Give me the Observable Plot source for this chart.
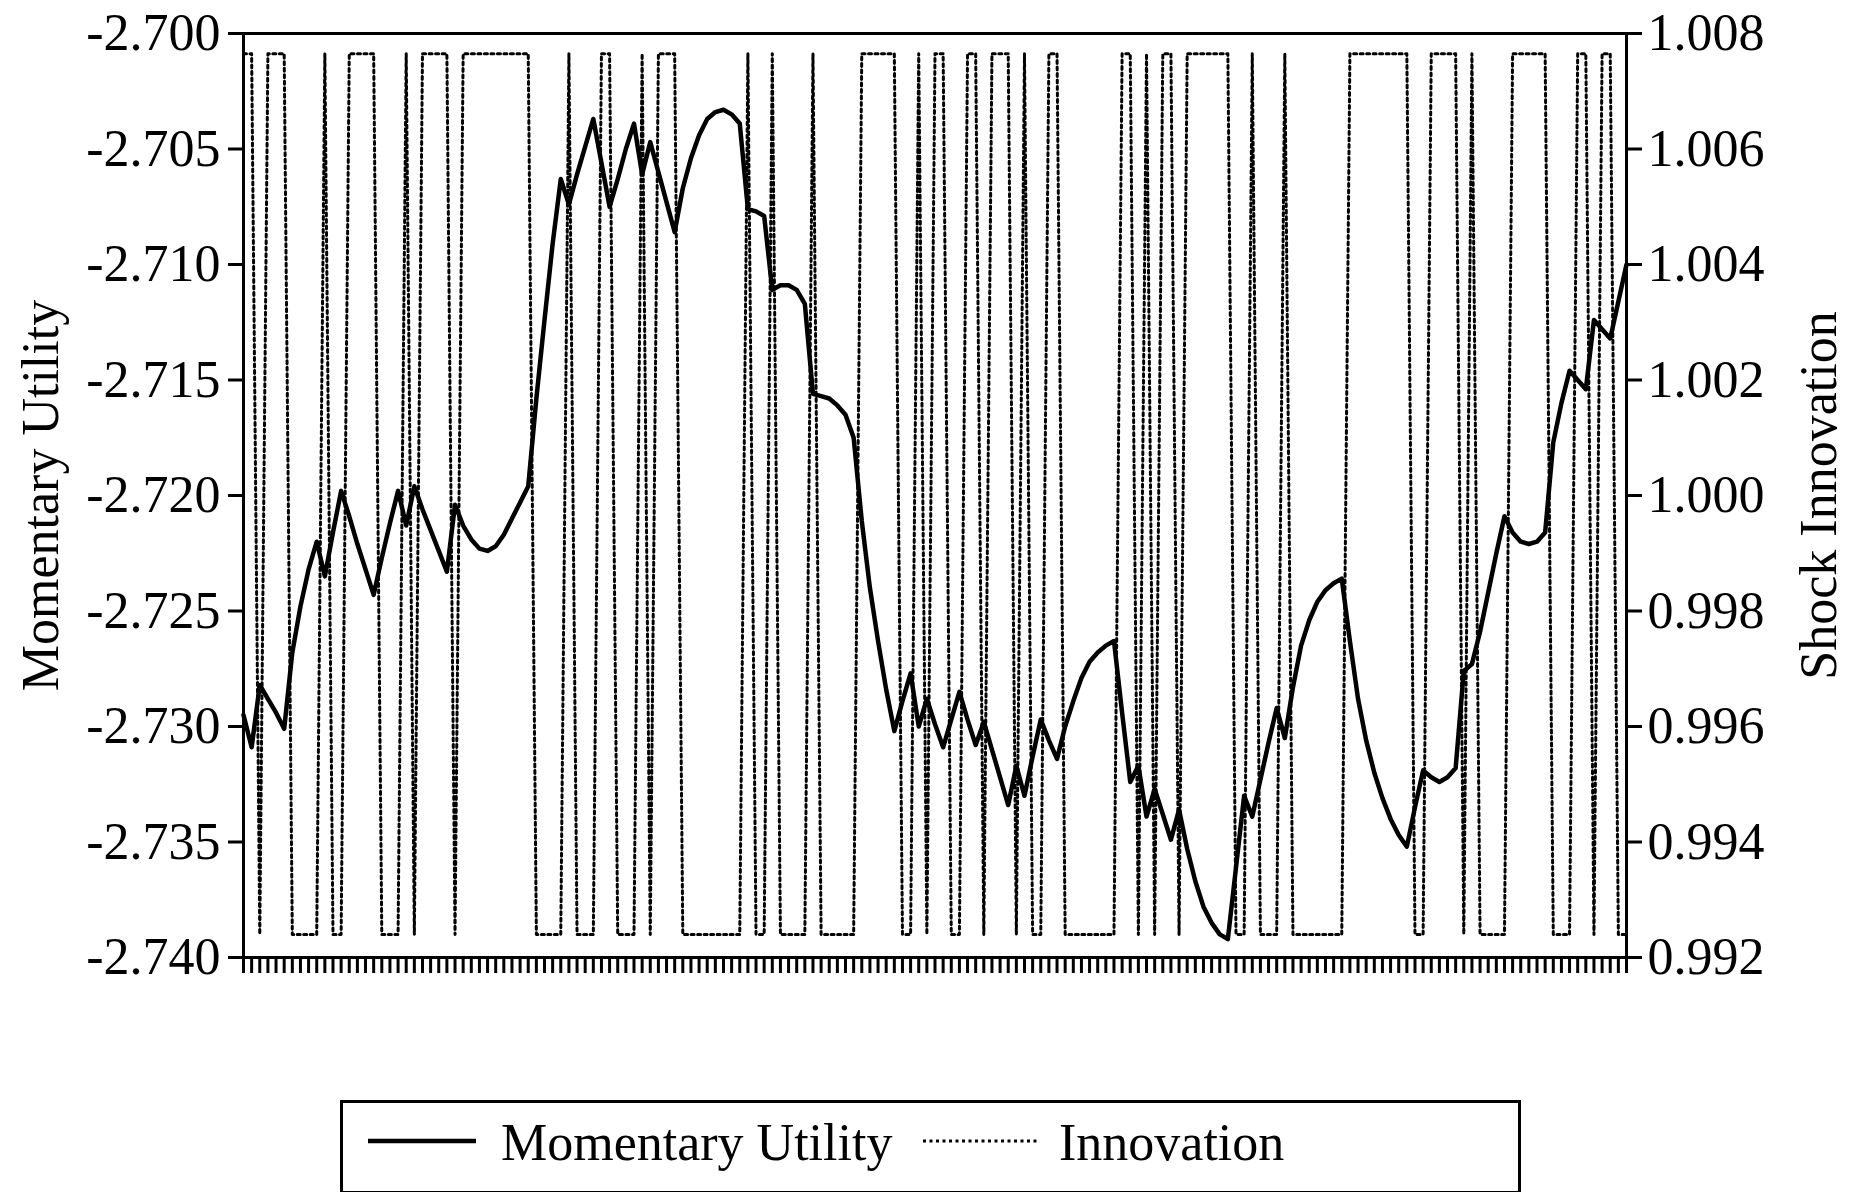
<!DOCTYPE html>
<html>
<head>
<meta charset="utf-8">
<script src="https://cdn.jsdelivr.net/npm/d3@7"></script>
<script src="https://cdn.jsdelivr.net/npm/@observablehq/plot@0.6"></script>
<style>
  body { margin: 0; background: #fff; }
  #wrap { position: relative; width: 1858px; height: 1192px; overflow: hidden; background: #fff; }
  #chart { position: absolute; left: 0; top: 0; }
  #legend { position: absolute; left: 340px; top: 1100px; width: 1175px; height: 88px;
            border: 3px solid #000; font-family: "Liberation Serif", "Times New Roman", serif; font-size: 52px; }
  #legend svg { position: absolute; left: 0; top: 0; }
  .lab { position: absolute; top: 10px; line-height: 60px; white-space: nowrap; }
</style>
</head>
<body>
<div id="wrap">
  <div id="chart"></div>
  <div id="legend">
    <svg width="1175" height="88">
      <line x1="25" x2="133" y1="38" y2="38" stroke="#000" stroke-width="4.5"/>
      <line x1="580" x2="695" y1="38" y2="38" stroke="#000" stroke-width="3" stroke-dasharray="3,3.5"/>
    </svg>
    <span class="lab" style="left:158px">Momentary Utility</span>
    <span class="lab" style="left:716px">Innovation</span>
  </div>
</div>
<script>
// Momentary utility, one value per period
const utility = [
  -2.7295,-2.7309,-2.7282,-2.7288,-2.7294,-2.7301,-2.7268,-2.7248,-2.7232,-2.7220,
  -2.7235,-2.7216,-2.7198,-2.7209,-2.7221,-2.7232,-2.7243,-2.7227,-2.7212,-2.7198,
  -2.7213,-2.7196,-2.7206,-2.7215,-2.7224,-2.7233,-2.7204,-2.7213,-2.7219,-2.7223,
  -2.7224,-2.7222,-2.7217,-2.7210,-2.7203,-2.7196,-2.7158,-2.7124,-2.7091,-2.7063,
  -2.7074,-2.7061,-2.7049,-2.7037,-2.7056,-2.7075,-2.7063,-2.7050,-2.7039,-2.7061,
  -2.7047,-2.7060,-2.7073,-2.7086,-2.7067,-2.7054,-2.7044,-2.7037,-2.7034,-2.7033,
  -2.7035,-2.7039,-2.7076,-2.7077,-2.7079,-2.7111,-2.7109,-2.7109,-2.7111,-2.7117,
  -2.7156,-2.7157,-2.7158,-2.7161,-2.7165,-2.7175,-2.7211,-2.7240,-2.7263,-2.7284,
  -2.7302,-2.7289,-2.7277,-2.7300,-2.7288,-2.7299,-2.7309,-2.7297,-2.7285,-2.7297,
  -2.7308,-2.7298,-2.7310,-2.7322,-2.7334,-2.7317,-2.7330,-2.7313,-2.7297,-2.7306,
  -2.7314,-2.7300,-2.7289,-2.7279,-2.7272,-2.7268,-2.7265,-2.7263,-2.7294,-2.7324,
  -2.7317,-2.7339,-2.7327,-2.7338,-2.7349,-2.7336,-2.7353,-2.7367,-2.7378,-2.7385,
  -2.7390,-2.7392,-2.7361,-2.7330,-2.7339,-2.7323,-2.7307,-2.7292,-2.7305,-2.7283,
  -2.7265,-2.7254,-2.7246,-2.7241,-2.7238,-2.7236,-2.7263,-2.7288,-2.7306,-2.7320,
  -2.7331,-2.7340,-2.7347,-2.7352,-2.7335,-2.7319,-2.7322,-2.7324,-2.7322,-2.7318,
  -2.7276,-2.7273,-2.7259,-2.7242,-2.7225,-2.7209,-2.7216,-2.7220,-2.7221,-2.7220,
  -2.7216,-2.7177,-2.7160,-2.7146,-2.7150,-2.7154,-2.7124,-2.7128,-2.7132,-2.7116,
  -2.7100
];
// Shock innovation state per period: 1 = high, 0 = low
const innovState = [
  1,1,0,1,1,1,0,0,0,0,
  1,0,0,1,1,1,1,0,0,0,
  1,0,1,1,1,1,0,1,1,1,
  1,1,1,1,1,1,0,0,0,0,
  1,0,0,0,1,1,0,0,0,1,
  0,1,1,1,0,0,0,0,0,0,
  0,0,1,0,0,1,0,0,0,0,
  1,0,0,0,0,0,1,1,1,1,
  1,0,0,1,0,1,1,0,0,1,
  1,0,1,1,1,0,1,0,0,1,
  1,0,0,0,0,0,0,0,1,1,
  0,1,0,1,1,0,1,1,1,1,
  1,1,0,0,1,0,0,0,1,0,
  0,0,0,0,0,0,1,1,1,1,
  1,1,1,1,0,0,1,1,1,1,
  0,1,0,0,0,0,1,1,1,1,
  1,0,0,0,1,1,0,1,1,0,
  0
];
const innovLevels = [0.9924, 1.00765]; // low, high
const leftTicks = [-2.740,-2.735,-2.730,-2.725,-2.720,-2.715,-2.710,-2.705,-2.700];
const rightTicks = [0.992,0.994,0.996,0.998,1.000,1.002,1.004,1.006,1.008];
const leftDomain = [-2.740, -2.700];
const rightDomain = [0.992, 1.008];
const titles = {left: "Momentary Utility", right: "Shock Innovation"};

const N = utility.length;
// map right-axis (innovation) values onto the left-axis scale and back
const toLeft = v => leftDomain[0] + (v - rightDomain[0]) * (leftDomain[1]-leftDomain[0]) / (rightDomain[1]-rightDomain[0]);
const toRight = u => rightDomain[0] + (u - leftDomain[0]) * (rightDomain[1]-rightDomain[0]) / (leftDomain[1]-leftDomain[0]);

const uData = utility.map((u, i) => ({t: i, u}));
const iData = innovState.slice(0, N).map((s, i) => ({t: i, v: toLeft(innovLevels[s])}));

const font = '"Liberation Serif", "Times New Roman", serif';
const chart = Plot.plot({
  width: 1858,
  height: 1000,
  marginLeft: 243,
  marginRight: 232,
  marginTop: 33,
  marginBottom: 43,
  style: {fontFamily: font, fontSize: "52px", color: "#000", background: "#fff"},
  x: {domain: [0, N - 1]},
  y: {domain: leftDomain},
  marks: [
    Plot.line(iData, {x: "t", y: "v", stroke: "#000", strokeWidth: 3, strokeDasharray: "3,3.5"}),
    Plot.line(uData, {x: "t", y: "u", stroke: "#000", strokeWidth: 4.5, strokeLinejoin: "round"}),
    Plot.frame({stroke: "#000", strokeWidth: 3}),
    Plot.axisY(leftTicks, {anchor: "left", tickSize: 15, tickPadding: 8, strokeWidth: 3,
      tickFormat: d => d.toFixed(3), label: null}),
    Plot.axisY(rightTicks.map(toLeft), {anchor: "right", tickSize: 15, tickPadding: 6, strokeWidth: 3,
      tickFormat: d => toRight(d).toFixed(3), label: null}),
    Plot.axisX(d3.range(N), {anchor: "bottom", tickSize: 16, strokeWidth: 3, tickFormat: () => "", label: null}),
    Plot.text([titles.left], {frameAnchor: "left", dx: -202, rotate: -90, textAnchor: "middle", lineAnchor: "middle", fontSize: 52}),
    Plot.text([titles.right], {frameAnchor: "right", dx: 193, rotate: -90, textAnchor: "middle", lineAnchor: "middle", fontSize: 52})
  ]
});
document.getElementById("chart").appendChild(chart);
</script>
</body>
</html>
